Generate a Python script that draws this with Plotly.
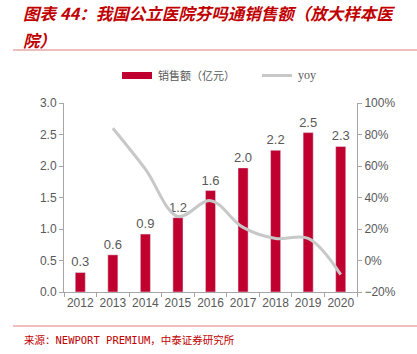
import plotly.graph_objects as go

years = ["2012", "2013", "2014", "2015", "2016", "2017", "2018", "2019", "2020"]
sales = [0.31, 0.59, 0.92, 1.18, 1.61, 1.97, 2.25, 2.53, 2.31]
yoy_years = ["2013", "2014", "2015", "2016", "2017", "2018", "2019", "2020"]
yoy = [84, 58, 28, 38, 21, 14, 14, -9]

title_line1 = "图表 44：我国公立医院芬吗通销售额（放大样本医"
title_line2 = "院）"
source = "来源：NEWPORT PREMIUM，中泰证券研究所"
bar_name = "销售额（亿元）"
line_name = "yoy"

RED = "#C0002F"
GRAY = "#595959"
AXIS = "#A6A6A6"
LINE = "#C8C8C8"

L, R, T, B = 64, 60, 103, 62
PW, PH = 417 - L - R, 354 - T - B


def px(x):
    return (x - L) / PW


def py(y):
    return (354 - B - y) / PH


fig = go.Figure()
fig.add_trace(go.Bar(
    x=years, y=sales, name=bar_name, marker_color=RED,
    text=[f"{v:.1f}" for v in sales], textposition="outside",
    constraintext="none",
    textfont=dict(size=13, color=GRAY, family="Liberation Sans, Arial"),
    cliponaxis=False, showlegend=False,
))
fig.add_trace(go.Scatter(
    x=yoy_years, y=yoy, name=line_name, yaxis="y2", mode="lines",
    line=dict(color=LINE, width=3, shape="spline", smoothing=1.0),
    showlegend=False,
))

title_font = dict(size=16.5, color="#C00000", family="Noto Sans CJK SC",
                  style="italic", weight="bold")

fig.update_layout(
    width=417, height=354,
    margin=dict(l=L, r=R, t=T, b=B),
    paper_bgcolor="white", plot_bgcolor="white",
    bargap=0.69,
    font=dict(family="Liberation Sans, Arial", color=GRAY, size=12),
    xaxis=dict(
        type="category", showline=True, linecolor=AXIS, linewidth=1,
        ticks="outside", ticklen=4, tickcolor=AXIS, tickson="boundaries",
        tickangle=0, tickfont=dict(size=12, color=GRAY), showgrid=False,
    ),
    yaxis=dict(
        range=[0, 3], dtick=0.5, tickformat=".1f", showline=True,
        linecolor=AXIS, ticks="outside", ticklen=4, tickcolor=AXIS,
        showgrid=False, zeroline=False, tickfont=dict(size=12, color=GRAY),
    ),
    yaxis2=dict(
        range=[-20, 100], dtick=20, ticksuffix="%", overlaying="y",
        side="right", showline=True, linecolor=AXIS, ticks="outside",
        ticklen=4, tickcolor=AXIS, showgrid=False, zeroline=False,
        tickfont=dict(size=12, color=GRAY),
    ),
    shapes=[
        dict(type="line", xref="paper", yref="paper", x0=px(13), x1=px(417),
             y0=py(50), y1=py(50), line=dict(color="#E9A8A8", width=1.5)),
        dict(type="line", xref="paper", yref="paper", x0=px(13), x1=px(417),
             y0=py(326), y1=py(326), line=dict(color="#E9A8A8", width=1.5)),
        dict(type="rect", xref="paper", yref="paper",
             x0=px(122), x1=px(152), y0=py(79), y1=py(72),
             fillcolor=RED, line=dict(width=0)),
        dict(type="line", xref="paper", yref="paper",
             x0=px(262), x1=px(292), y0=py(75.5), y1=py(75.5),
             line=dict(color=LINE, width=3)),
    ],
    annotations=[
        dict(text=title_line1, xref="paper", yref="paper", x=px(21),
             y=py(13), xanchor="left", yanchor="middle",
             showarrow=False, font=title_font),
        dict(text=title_line2, xref="paper", yref="paper", x=px(21),
             y=py(40), xanchor="left", yanchor="middle",
             showarrow=False, font=title_font),
        dict(text=bar_name, xref="paper", yref="paper", x=px(156),
             y=py(75.5), xanchor="left", yanchor="middle",
             showarrow=False, font=dict(size=11, color=GRAY,
                                        family="Noto Sans CJK SC")),
        dict(text=line_name, xref="paper", yref="paper", x=px(296),
             y=py(74.5), xanchor="left", yanchor="middle",
             showarrow=False, font=dict(size=12, color=GRAY,
                                        family="Liberation Serif")),
        dict(text=source, xref="paper", yref="paper", x=px(22),
             y=py(340), xanchor="left", yanchor="middle",
             showarrow=False, font=dict(size=10.5, color="#C00000",
                                        family="DejaVu Sans Mono, Noto Sans CJK SC")),
    ],
)

fig.write_html("out.html")
